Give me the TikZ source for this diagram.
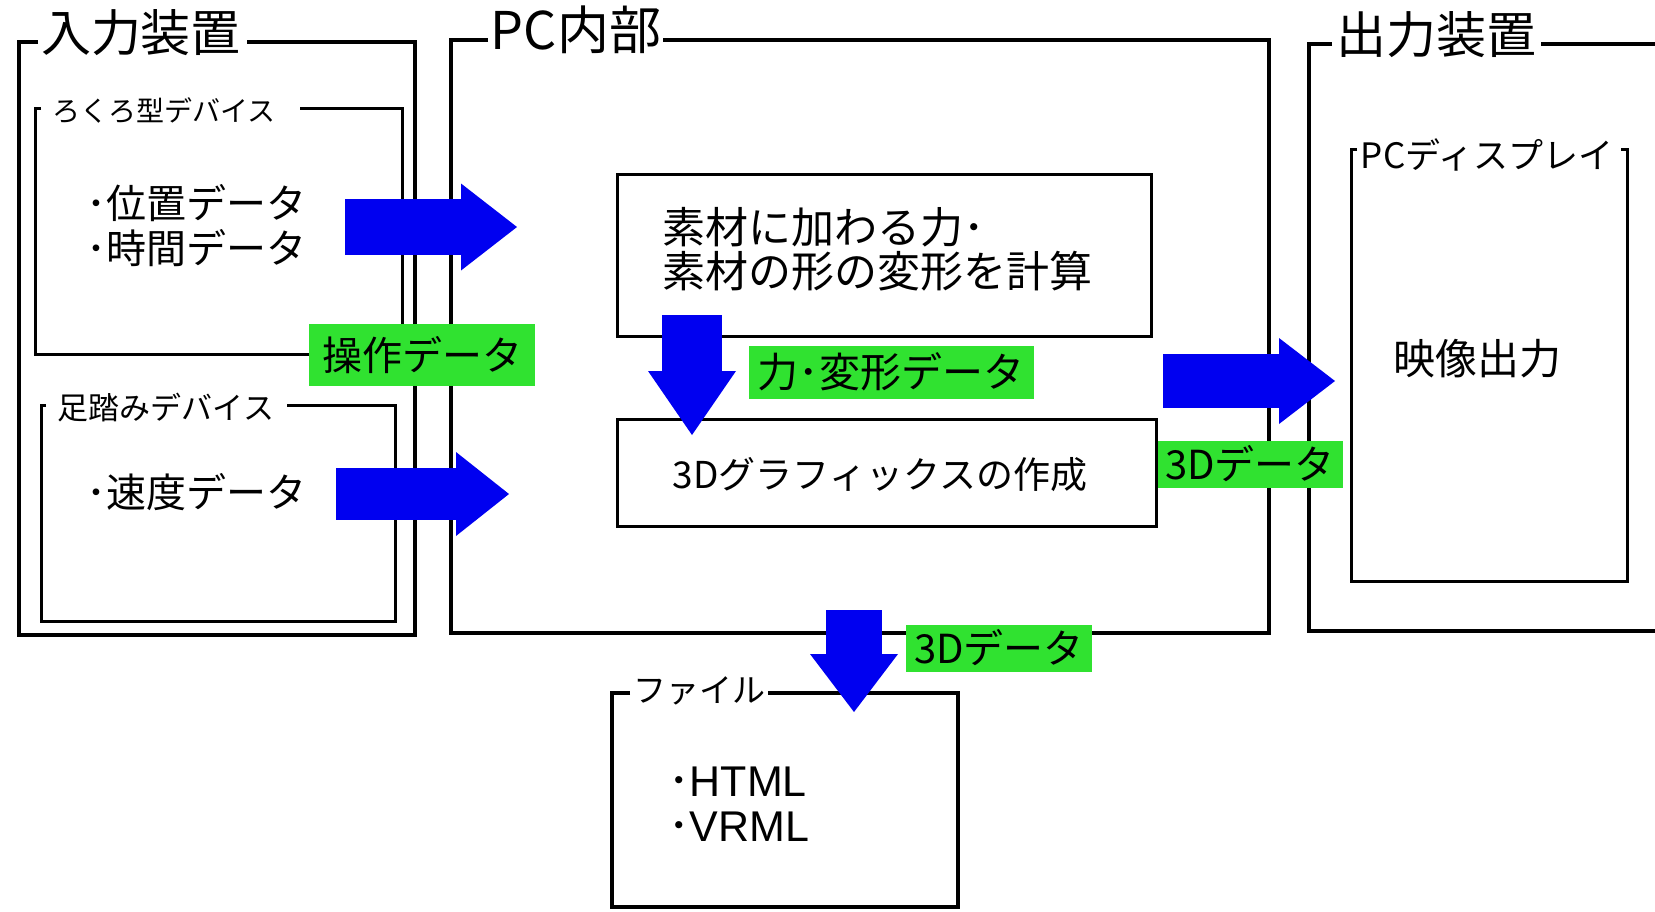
\documentclass[tikz,border=0pt]{standalone}
\usepackage{fontspec}
\setmainfont{Noto Sans CJK JP}
\newfontfamily\latinfont{Liberation Sans}
\usetikzlibrary{arrows.meta}
\definecolor{lblgreen}{RGB}{48,226,48}
\definecolor{arrblue}{RGB}{0,0,240}
\newcommand\jfs[1]{\fontsize{#1}{#1}\selectfont}
\begin{document}
\begin{tikzpicture}[x=1pt,y=-1pt,
  outerline/.style={line width=4pt},
  innerline/.style={line width=3pt},
  txt/.style={inner sep=0pt, font=\jfs{#1}},
  lbl/.style={fill=lblgreen, inner sep=0pt},
  bigarrow/.style n args={3}{draw=arrblue, line width=#1pt,
    -{Triangle[width=#2pt,length=#3pt,line width=0pt]}},
]
\useasboundingbox (0,0) rectangle (1655,911);
\fill[white] (0,0) rectangle (1655,911);

% ---- input devices
\draw[outerline] (38,42) -- (19,42) -- (19,635) -- (415,635) -- (415,42) -- (247,42);
\node[txt=50] (inT) at (141,33) {入力装置};
\draw[innerline] (41,108) -- (35,108) -- (35,354) -- (402,354) -- (402,108) -- (300,108);
\node[txt=28] (rokT) at (164,111) {ろくろ型デバイス};
\node[txt=40, anchor=west] (pos) at (86,203) {･位置データ};
\node[txt=40, anchor=west] (tim) at (86,248) {･時間データ};
\draw[innerline] (46,405) -- (41,405) -- (41,621) -- (395,621) -- (395,405) -- (287,405);
\node[txt=31] (ashT) at (166,408) {足踏みデバイス};
\node[txt=40, anchor=west] (spd) at (86,492) {･速度データ};

% ---- PC internals
\draw[outerline] (488,40) -- (451,40) -- (451,633) -- (1269,633) -- (1269,40) -- (663,40);
\node[txt=52] (pcT) at (576,30) {PC内部};
\node[draw, innerline, minimum width=534pt, minimum height=162pt] (calc) at (884,255) {};
\node[txt=43, anchor=west, align=left] (calcT) at (662,249) {素材に加わる力･\\[1pt]素材の形の変形を計算};
\node[draw, innerline, minimum width=539pt, minimum height=107pt] (gfx) at (886.5,472.5) {};
\node[txt=37] (gfxT) at (880,475) {3Dグラフィックスの作成};

% ---- output devices
\draw[outerline] (1332,44) -- (1309,44) -- (1309,631) -- (1700,631);
\draw[outerline] (1541,44) -- (1700,44);
\node[txt=50] (outT) at (1436,35) {出力装置};
\draw[innerline] (1357,149) -- (1351,149) -- (1351,581) -- (1627,581) -- (1627,149) -- (1621,149);
\node[txt=35] (dispT) at (1487,155) {PCディスプレイ};
\node[txt=42] (vid) at (1477,359) {映像出力};

% ---- file
\draw[outerline] (630,693) -- (612,693) -- (612,907) -- (958,907) -- (958,693) -- (768,693);
\node[txt=33] (fileT) at (699,691) {ファイル};
\node[txt=43, anchor=west] (html) at (668,782) {･{\latinfont HTML}};
\node[txt=43, anchor=west] (vrml) at (668,827) {･{\latinfont VRML}};

% ---- block arrows
\coordinate (a1s) at (345,227); \coordinate (a1t) at (517,227);
\coordinate (a2s) at (336,494); \coordinate (a2t) at (509,494);
\coordinate (a3s) at (692,315); \coordinate (a3t) at (692,435);
\coordinate (a4s) at (1163,381); \coordinate (a4t) at (1335,381);
\coordinate (a5s) at (854,610); \coordinate (a5t) at (854,712);
\draw[bigarrow={56}{87}{56}] (a1s) -- (a1t);
\draw[bigarrow={52}{84}{53}] (a2s) -- (a2t);
\draw[bigarrow={60}{88}{64}] (a3s) -- (a3t);
\draw[bigarrow={54}{86}{56}] (a4s) -- (a4t);
\draw[bigarrow={56}{88}{58}] (a5s) -- (a5t);

% ---- green labels
\node[lbl, minimum width=226pt, minimum height=62pt, font=\jfs{40}] (lop) at (422,355) {操作データ};
\node[lbl, minimum width=285pt, minimum height=53pt, font=\jfs{41}] (lfd) at (891,372) {力･変形データ};
\node[lbl, minimum width=185pt, minimum height=47pt, font=\jfs{40}] (l3r) at (1250,464) {3Dデータ};
\node[lbl, minimum width=186pt, minimum height=47pt, font=\jfs{40}] (l3b) at (999,648) {3Dデータ};
\end{tikzpicture}
\end{document}
